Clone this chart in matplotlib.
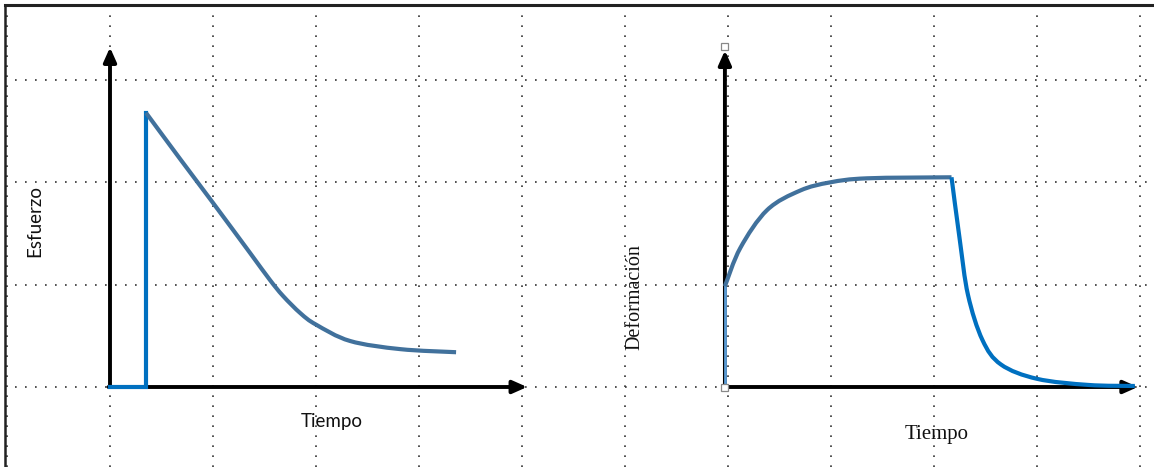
import matplotlib
matplotlib.use("Agg")
import matplotlib.pyplot as plt
from matplotlib.patches import Rectangle, PathPatch
from matplotlib.path import Path

# ---- data (grid units: one dotted cell = 1) ----
# Left chart: stress vs time
stress_step_t = [0.0, 0.35, 0.35]
stress_step_v = [0.0, 0.0, 2.68]
stress_decay_t = [0.35, 0.68, 1.0, 1.36, 1.55, 1.68, 1.85, 2.0, 2.33, 2.82, 3.36]
stress_decay_v = [2.68, 2.23, 1.80, 1.31, 1.05, 0.89, 0.72, 0.61, 0.45, 0.37, 0.34]

# Right chart: strain vs time
strain_jump_t = [5.97, 5.97]
strain_jump_v = [0.0, 0.985]
strain_rise_t = [5.97, 6.12, 6.38, 6.70, 6.99, 7.35, 8.17]
strain_rise_v = [0.985, 1.36, 1.73, 1.92, 2.0, 2.04, 2.05]
strain_drop_t = [8.17, 8.25, 8.33, 8.47, 8.65, 9.0, 9.5, 9.95]
strain_drop_v = [2.05, 1.44, 0.90, 0.46, 0.22, 0.08, 0.02, 0.01]

left_ylabel = "Esfuerzo"
left_xlabel = "Tiempo"
right_ylabel = "Deformación"
right_xlabel = "Tiempo"


def smooth_path(xs, ys):
    """Smooth (Catmull-Rom style) cubic Bezier path through the given points."""
    pts = list(zip(xs, ys))
    verts = [pts[0]]
    codes = [Path.MOVETO]
    n = len(pts)
    for i in range(n - 1):
        p0 = pts[i - 1] if i > 0 else pts[i]
        p1 = pts[i]
        p2 = pts[i + 1]
        p3 = pts[i + 2] if i + 2 < n else pts[i + 1]
        c1 = (p1[0] + (p2[0] - p0[0]) / 6, p1[1] + (p2[1] - p0[1]) / 6)
        c2 = (p2[0] - (p3[0] - p1[0]) / 6, p2[1] - (p3[1] - p1[1]) / 6)
        verts += [c1, c2, p2]
        codes += [Path.CURVE4] * 3
    return Path(verts, codes)


# ---- layout ----
W, H = 1154, 467
fig = plt.figure(figsize=(W / 100, H / 100), dpi=100)
ax = fig.add_axes([0, 0, 1, 1])
ax.set_xlim(-110 / 103, (W - 110) / 103)
ax.set_ylim((387 - H) / 102.3, 387 / 102.3)
ax.axis("off")

# dotted grid
dot = dict(color="#333333", lw=1.2, linestyle=(0, (1, 5.0)), zorder=1)
for gx in range(-1, 11):
    ax.plot([gx, gx], [(387 - H) / 102.3, (387 - 8) / 102.3], **dot)
for gy in range(0, 4):
    ax.plot([(15 - 110) / 103, (W - 110) / 103], [gy, gy], **dot)

# figure border (left + top)
ax.plot([(5 - 110) / 103, (5 - 110) / 103], [(387 - H) / 102.3, (387 - 5) / 102.3], color="#222222", lw=1.8, zorder=2)
ax.plot([(5 - 110) / 103, (W - 110) / 103], [(387 - 5) / 102.3, (387 - 5) / 102.3], color="#222222", lw=2.2, zorder=2)

# axes arrows
arrow = dict(arrowstyle="-|>,head_length=0.9,head_width=0.4", color="black", lw=2.8,
             shrinkA=0, shrinkB=0, mutation_scale=9.5)
L0x, R0x = 0.0, 5.97
ax.annotate("", xy=(L0x, 3.32), xytext=(L0x, 0), arrowprops=arrow, zorder=3)
ax.annotate("", xy=(4.05, 0), xytext=(L0x - 0.015, 0), arrowprops=arrow, zorder=3)
ax.annotate("", xy=(R0x, 3.29), xytext=(R0x, 0), arrowprops=arrow, zorder=3)
ax.annotate("", xy=(9.98, 0), xytext=(R0x - 0.015, 0), arrowprops=arrow, zorder=3)

# curves
bright = "#0070C0"
steel = "#41719C"
lw = 3.0
ax.plot(stress_step_t, stress_step_v, color=bright, lw=lw, zorder=4, solid_joinstyle="miter")
ax.add_patch(PathPatch(smooth_path(stress_decay_t, stress_decay_v), facecolor="none",
                       edgecolor=steel, lw=lw, zorder=4, capstyle="butt"))
ax.plot(strain_jump_t, strain_jump_v, color="#5B9BD5", lw=2.0, zorder=4)
ax.add_patch(PathPatch(smooth_path(strain_rise_t, strain_rise_v), facecolor="none",
                       edgecolor=steel, lw=lw, zorder=4))
ax.add_patch(PathPatch(smooth_path(strain_drop_t, strain_drop_v), facecolor="none",
                       edgecolor=bright, lw=lw, zorder=4))

# selection handles on right axis
for hy in (0.0, 3.33):
    ax.add_patch(Rectangle((R0x - 3.5 / 103, hy - 3.5 / 102.3), 7 / 103, 7 / 102.3,
                           facecolor="white", edgecolor="#888888", lw=0.9, zorder=6))

# labels
ax.text((35 - 110) / 103, (387 - 221) / 102.3, left_ylabel, rotation=90, ha="center", va="center",
        fontsize=13.5, family=["Lato", "DejaVu Sans"], color="#111111")
ax.text((332 - 110) / 103, (387 - 422) / 102.3, left_xlabel, ha="center", va="center",
        fontsize=13.5, family=["Lato", "DejaVu Sans"], color="#111111")
ax.text((635 - 110) / 103, (387 - 297) / 102.3, right_ylabel, rotation=90, ha="center", va="center",
        fontsize=14.5, family=["Liberation Serif", "DejaVu Serif"], color="#111111")
ax.text((937 - 110) / 103, (387 - 435) / 102.3, right_xlabel, ha="center", va="center",
        fontsize=15, family=["Liberation Serif", "DejaVu Serif"], color="#111111")

fig.savefig("out.png", dpi=100)
